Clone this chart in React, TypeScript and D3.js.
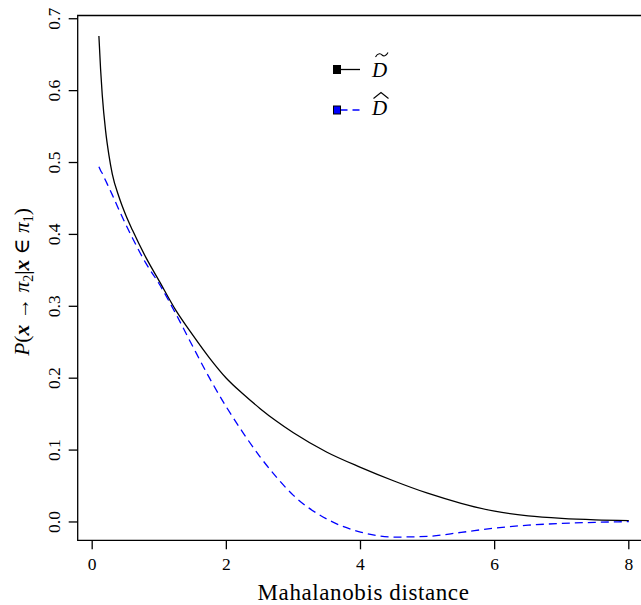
import React from "react";
import * as d3 from "d3";

const xGrid = [0.1, 0.125, 0.15, 0.2, 0.25, 0.3, 0.4, 0.5, 0.6, 0.8, 1.0, 1.25, 1.5, 1.75, 2.0, 2.25, 2.5, 2.75, 3.0, 3.5, 4.0, 4.5, 5.0, 5.5, 6.0, 6.5, 7.0, 7.5, 8.0];
const tildeVals = [0.676, 0.63, 0.594, 0.544, 0.51, 0.484, 0.452, 0.427, 0.406, 0.368, 0.335, 0.294, 0.26, 0.228, 0.2, 0.178, 0.158, 0.14, 0.124, 0.097, 0.076, 0.057, 0.04, 0.026, 0.015, 0.0085, 0.005, 0.003, 0.002];
const hatVals = [0.494, 0.489, 0.485, 0.475, 0.465, 0.455, 0.434, 0.414, 0.395, 0.36, 0.331, 0.289, 0.244, 0.2, 0.16, 0.124, 0.091, 0.062, 0.037, 0.004, -0.014, -0.021, -0.02, -0.0145, -0.0085, -0.0045, -0.002, -0.0005, 0.0005];
const xTicks = [0, 2, 4, 6, 8];
const yTicks = [0.0, 0.1, 0.2, 0.3, 0.4, 0.5, 0.6, 0.7];

const W = 641, H = 605;
const L = 77.7, T = 15.5, R = 650, B = 540.3;
const FONT = "Liberation Serif, DejaVu Serif, Noto Serif, FreeSerif, Nimbus Roman, Tinos, Times, serif";
const ts = { fontFamily: FONT };

export default function App() {
  const x = d3.scaleLinear().domain([-0.216, 8.316]).range([L, R]);
  const y = d3.scaleLinear().domain([-0.0255, 0.7045]).range([B, T]);
  const line = d3.line<number>()
    .x((_, i) => x(xGrid[i]))
    .y((d) => y(d))
    .curve(d3.curveMonotoneX);

  return (
    <svg width={W} height={H} style={{ position: "absolute", left: 0, top: 0, background: "#fff", fontFamily: FONT }}>
      <rect x={0} y={0} width={W} height={H} fill="#fff" />
      <path d={`M${R},${T}H${L}V${B}H${R}`} fill="none" stroke="#000" strokeWidth={1.3} />
      {xTicks.map((t) => (
        <g key={"x" + t}>
          <line x1={x(t)} x2={x(t)} y1={B} y2={B + 9} stroke="#000" strokeWidth={1.3} />
          <text x={x(t)} y={569.5} fontSize={17.5} textAnchor="middle" fill="#000" style={ts}>{t}</text>
        </g>
      ))}
      {yTicks.map((t) => (
        <g key={"y" + t}>
          <line x1={L - 9} x2={L} y1={y(t)} y2={y(t)} stroke="#000" strokeWidth={1.3} />
          <text transform={`translate(59.5,${y(t)}) rotate(-90)`} fontSize={17.5} textAnchor="middle" fill="#000" style={ts}>{t.toFixed(1)}</text>
        </g>
      ))}
      <text x={363.5} y={600} fontSize={23} letterSpacing={0.6} textAnchor="middle" fill="#000" style={ts}>Mahalanobis distance</text>
      <text transform={`translate(29,${(T + B) / 2 + 4}) rotate(-90)`} fontSize={21.5} textAnchor="middle" fill="#000" style={ts}>
        <tspan fontStyle="italic">P</tspan>
        <tspan>(</tspan>
        <tspan fontStyle="italic" fontWeight="bold">x</tspan>
        <tspan> → </tspan>
        <tspan fontStyle="italic">π</tspan>
        <tspan fontSize={14} dy={4}>2</tspan>
        <tspan dy={-4}>|</tspan>
        <tspan fontStyle="italic" fontWeight="bold">x</tspan>
        <tspan> ∈ </tspan>
        <tspan fontStyle="italic">π</tspan>
        <tspan fontSize={14} dy={4}>1</tspan>
        <tspan dy={-4}>)</tspan>
      </text>
      <path d={line(tildeVals) || ""} fill="none" stroke="#000" strokeWidth={1.3} />
      <path d={line(hatVals) || ""} fill="none" stroke="#0000ff" strokeWidth={1.3} strokeDasharray="8,5" />
      <line x1={337} x2={360} y1={69.5} y2={69.5} stroke="#000" strokeWidth={1.3} />
      <rect x={333.5} y={65.5} width={7} height={8} fill="#000" stroke="#000" strokeWidth={1} />
      <text x={372} y={76.7} fontSize={21} fontStyle="italic" fill="#000" style={ts}>D</text>
      <path d="M375.5,57 C378,52.5 381,53.5 382,55 C383.5,56.5 386,56.5 388,52.5" fill="none" stroke="#000" strokeWidth={1.1} />
      <line x1={340.5} x2={360} y1={110} y2={110} stroke="#0000ff" strokeWidth={1.3} strokeDasharray="7,5" />
      <rect x={333.5} y={106} width={7} height={8} fill="#0000ff" stroke="#000" strokeWidth={1} />
      <text x={372} y={115} fontSize={21} fontStyle="italic" fill="#000" style={ts}>D</text>
      <path d="M373.5,98.5 L381,92.5 L388.5,98.5" fill="none" stroke="#000" strokeWidth={1.1} />
    </svg>
  );
}
